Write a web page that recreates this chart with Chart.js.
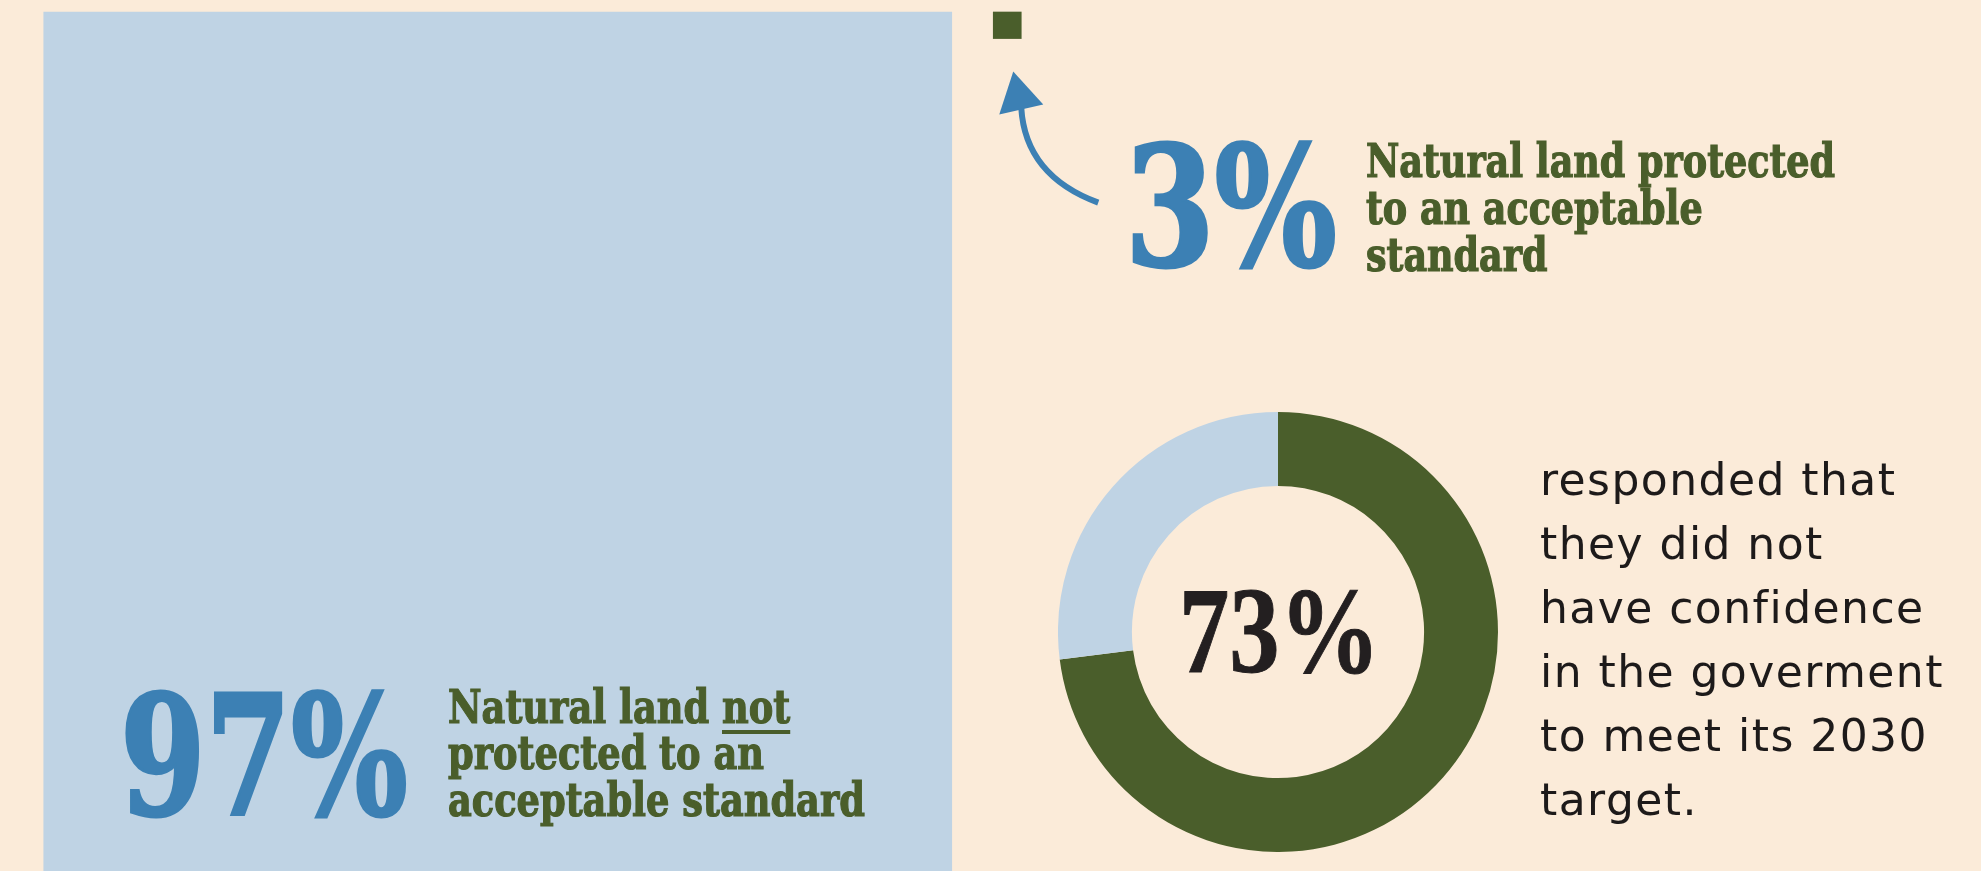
<!DOCTYPE html>
<html>
<head>
<meta charset="utf-8">
<title>Natural land protection</title>
<script src="https://cdn.jsdelivr.net/npm/chart.js@4"></script>
<style>
  html, body { margin: 0; padding: 0; background: #fbebd9; overflow: hidden; }
  #stage { position: relative; width: 1981px; height: 871px; }
  #barBox { position: absolute; left: 0; top: 0; width: 1981px; height: 871px; }
  #donutBox { position: absolute; left: 1058px; top: 412px; width: 440px; height: 440px; }
  .txt { position: absolute; white-space: nowrap; transform-origin: 0 0; }
  .base { display: inline-block; width: 0; height: 0; vertical-align: baseline; }
  .big { font-family: 'DejaVu Serif Condensed', 'DejaVu Serif', serif; font-stretch: condensed; font-weight: 700; color: #3c80b4; -webkit-text-stroke: 3px #3c80b4; }
  .lbl { font-family: 'DejaVu Serif Condensed', 'DejaVu Serif', serif; font-stretch: condensed; font-weight: 700; color: #4a5e2b; -webkit-text-stroke: 1.2px #4a5e2b; }
  .lbl u { text-decoration-thickness: 4px; text-underline-offset: 7px; }
  .pct { font-family: 'Liberation Serif', serif; font-weight: 700; color: #231f20; -webkit-text-stroke: 1px #231f20; }
  .body { font-family: 'DejaVu Sans', sans-serif; font-weight: 400; color: #1d1a1a; }
</style>
</head>
<body>
<div id="stage">
  <div id="barBox"><canvas id="bars"></canvas></div>
  <div id="donutBox"><canvas id="donut"></canvas></div>
</div>
<script>
// share of natural land by protection status
const landLabels = ['Not protected', 'Protected'];
const landValues = [97, 3];

// survey: confidence in the 2030 target
const surveyLabels = ['No confidence', 'Other'];
const surveyValues = [73, 27];

const protectedText = ['Natural land protected', 'to an acceptable', 'standard'];
const notProtectedText = ['Natural land <u>not</u>', 'protected to an', 'acceptable standard'];
const surveyText = ['responded that', 'they did not', 'have confidence', 'in the goverment', 'to meet its 2030', 'target.'];

const LIGHT_BLUE = '#bfd3e4';
const GREEN = '#4a5e2b';
const BLUE = '#3c80b4';

// curved arrow pointing at the small bar
const arrowPlugin = {
  id: 'arrow',
  afterDatasetsDraw(chart) {
    const bar = chart.getDatasetMeta(1).data[1];
    if (!bar) return;
    const ctx = chart.ctx;
    const tx = bar.x + 6, ty = bar.y + 33;
    ctx.save();
    ctx.strokeStyle = BLUE;
    ctx.fillStyle = BLUE;
    ctx.lineWidth = 6;
    ctx.beginPath();
    ctx.moveTo(bar.x + 91, bar.y + 164);
    ctx.quadraticCurveTo(bar.x + 18, bar.y + 137, tx + 8, ty + 36);
    ctx.stroke();
    ctx.beginPath();
    ctx.moveTo(tx, ty);
    ctx.lineTo(tx + 30, ty + 33);
    ctx.lineTo(tx - 14, ty + 43);
    ctx.closePath();
    ctx.fill();
    ctx.restore();
  }
};

new Chart(document.getElementById('bars'), {
  type: 'bar',
  data: {
    labels: landLabels,
    datasets: [
      {
        label: landLabels[0],
        data: [landValues[0], null],
        backgroundColor: LIGHT_BLUE,
        barThickness: 908,
        grouped: false,
        clip: false
      },
      {
        label: landLabels[1],
        data: [null, landValues[1]],
        backgroundColor: GREEN,
        barThickness: 28,
        grouped: false,
        clip: false
      }
    ]
  },
  options: {
    responsive: true,
    maintainAspectRatio: false,
    animation: false,
    layout: { padding: { top: 12, bottom: 0, left: 243, right: 719 } },
    plugins: { legend: { display: false }, tooltip: { enabled: false } },
    scales: {
      x: { display: false, offset: true, grid: { display: false } },
      y: { display: false, reverse: true, min: 0, max: Math.max(...landValues) }
    }
  },
  plugins: [arrowPlugin]
});

new Chart(document.getElementById('donut'), {
  type: 'doughnut',
  data: {
    labels: surveyLabels,
    datasets: [{
      data: surveyValues,
      backgroundColor: [GREEN, LIGHT_BLUE],
      borderWidth: 0
    }]
  },
  options: {
    responsive: true,
    maintainAspectRatio: false,
    animation: false,
    cutout: '66.4%',
    layout: { padding: 0 },
    plugins: { legend: { display: false }, tooltip: { enabled: false } }
  }
});

// text placed by baseline; scaleX / letter-spacing fitted to a target width
const stage = document.getElementById('stage');

function placeLine(html, cls, size, left, baseline) {
  const el = document.createElement('div');
  el.className = 'txt ' + cls;
  el.style.fontSize = size + 'px';
  el.innerHTML = html;
  const mark = document.createElement('span');
  mark.className = 'base';
  el.appendChild(mark);
  stage.appendChild(el);
  el.style.left = left + 'px';
  el.style.top = '0px';
  const b = mark.getBoundingClientRect().top - stage.getBoundingClientRect().top;
  el.style.top = (baseline - b) + 'px';
  return el;
}

function placeBlock(lines, cls, size, left, baselines, fitIndex, fitWidth) {
  const els = lines.map((t, i) => placeLine(t, cls, size, left, baselines[i]));
  const s = fitWidth / els[fitIndex].getBoundingClientRect().width;
  els.forEach(el => { el.style.transform = 'scaleX(' + s + ')'; });
  return els;
}

function placeTracked(lines, cls, size, left, baselines, fitIndex, fitWidth) {
  const els = lines.map((t, i) => placeLine(t, cls, size, left, baselines[i]));
  const ref = els[fitIndex];
  const n = lines[fitIndex].length;
  const ls = (fitWidth - ref.getBoundingClientRect().width) / n;
  els.forEach(el => { el.style.letterSpacing = ls + 'px'; });
  return els;
}

document.fonts.ready.then(() => {
  placeBlock([landValues[1] + '%'], 'big', 166, 1125, [266], 0, 212);
  placeBlock(protectedText, 'lbl', 47, 1366, [177, 224, 271], 0, 469);
  placeBlock([landValues[0] + '%'], 'big', 166, 120, [815], 0, 288);
  placeBlock(notProtectedText, 'lbl', 47, 448, [723, 769, 816], 2, 417);
  placeBlock([surveyValues[0] + '%'], 'pct', 122, 1179, [672], 0, 201);
  placeTracked(surveyText, 'body', 44, 1540, [495, 559, 623, 687, 751, 815], 4, 388);
});
</script>
</body>
</html>
